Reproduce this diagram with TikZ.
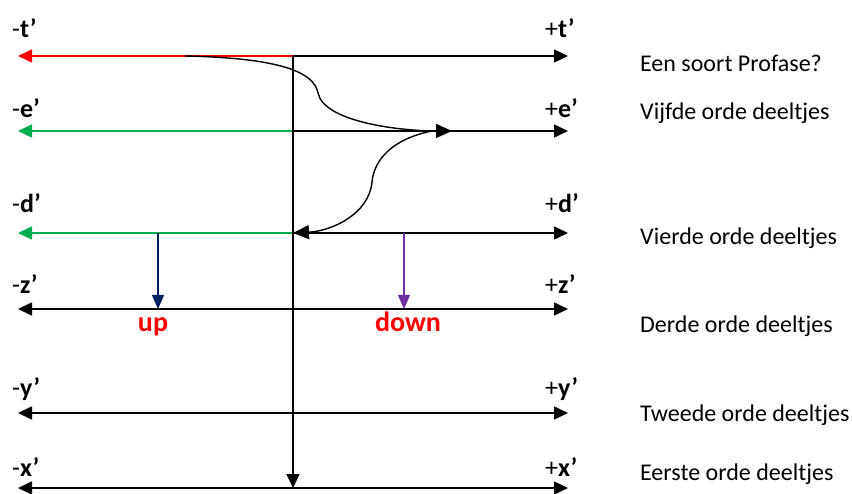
\documentclass[tikz,border=0pt]{standalone}
\usepackage{fontspec}
\setmainfont{Carlito}
\usetikzlibrary{arrows.meta,positioning}
\definecolor{tred}{RGB}{255,0,0}
\definecolor{egreen}{RGB}{0,176,80}
\definecolor{upblue}{RGB}{0,32,96}
\definecolor{downpurple}{RGB}{112,48,160}
\tikzset{
  axisline/.style={line width=1.6pt, -{Triangle[length=14pt,width=13pt]}},
  biline/.style={line width=1.6pt, {Triangle[length=14pt,width=13pt]}-{Triangle[length=14pt,width=13pt]}},
  flowline/.style={line width=1.4pt, -{Triangle[length=16pt,width=14pt]}},
  quarkarrow/.style={line width=1.4pt, -{Triangle[length=14pt,width=12pt]}},
  sidelabel/.style={font=\fontsize{26}{30}\selectfont\bfseries, anchor=base west, inner sep=0pt},
  ordlabel/.style={font=\fontsize{24}{28}\selectfont, anchor=base west, inner sep=0pt},
  quarklabel/.style={font=\fontsize{28}{32}\selectfont\bfseries, text=tred, anchor=base, inner sep=0pt}
}
\begin{document}
\begin{tikzpicture}[x=1pt,y=-1pt]
\useasboundingbox (0,0) rectangle (852,494);

% end points of the levels
\coordinate (tL) at (18,56);  \coordinate (tO) at (293,56);  \coordinate (tR) at (568,56);
\coordinate (eL) at (18,131); \coordinate (eO) at (293,131); \coordinate (eR) at (568,131);
\coordinate (dL) at (18,233); \coordinate (dO) at (293,233); \coordinate (dR) at (568,233);
\coordinate (zL) at (18,309); \coordinate (zR) at (568,309);
\coordinate (yL) at (18,413); \coordinate (yR) at (568,413);
\coordinate (xL) at (18,488); \coordinate (xO) at (293,488); \coordinate (xR) at (568,488);
\coordinate (tK) at (185,56);  \coordinate (eK) at (452,131); \coordinate (eS) at (432,131);
\coordinate (dU) at (158,233); \coordinate (zU) at (158,309);
\coordinate (dD) at (404,233); \coordinate (zD) at (404,309);

% labels
\node[sidelabel] (tminus) at (12,38) {\mdseries-\bfseries t’};
\node[sidelabel] (tplus) at (545,38) {\mdseries+\bfseries t’};
\node[sidelabel] (eminus) at (12,118) {\mdseries-\bfseries e’};
\node[sidelabel] (eplus) at (545,118) {\mdseries+\bfseries e’};
\node[sidelabel] (dminus) at (12,213) {\mdseries-\bfseries d’};
\node[sidelabel] (dplus) at (545,213) {\mdseries+\bfseries d’};
\node[sidelabel] (zminus) at (12,294) {\mdseries-\bfseries z’};
\node[sidelabel] (zplus) at (545,294) {\mdseries+\bfseries z’};
\node[sidelabel] (yminus) at (12,397) {\mdseries-\bfseries y’};
\node[sidelabel] (yplus) at (545,397) {\mdseries+\bfseries y’};
\node[sidelabel] (xminus) at (12,476) {\mdseries-\bfseries x’};
\node[sidelabel] (xplus) at (545,476) {\mdseries+\bfseries x’};

\node[ordlabel] (profase) at (640,72) {Een soort Profase?};
\node[ordlabel] (vijfde) at (640,120) {Vijfde orde deeltjes};
\node[ordlabel] (vierde) at (640,245) {Vierde orde deeltjes};
\node[ordlabel] (derde) at (640,333) {Derde orde deeltjes};
\node[ordlabel] (tweede) at (640,421) {Tweede orde deeltjes};
\node[ordlabel] (eerste) at (640,480) {Eerste orde deeltjes};

\node[quarklabel] (up) at (153,332) {up};
\node[quarklabel] (down) at (408,332) {down};

% levels
\draw[axisline, tred] (tO) -- (tL);
\draw[axisline] (tO) -- (tR);
\draw[axisline, egreen] (eO) -- (eL);
\draw[axisline] (eO) -- (eR);
\draw[axisline, egreen] (dO) -- (dL);
\draw[axisline] (dO) -- (dR);
\draw[biline] (zL) -- (zR);
\draw[biline] (yL) -- (yR);
\draw[biline] (xL) -- (xR);
\draw[axisline] (tO) -- (xO);

% transitions
\draw[flowline] (tK) .. controls (280,58) and (314,72) .. (318,93)
  .. controls (324,122) and (400,131) .. (eK);
\draw[flowline] (eS) .. controls (392,139) and (374,160) .. (372,182)
  .. controls (369,214) and (332,231) .. (dO);
\draw[quarkarrow, upblue] (dU) -- (zU);
\draw[quarkarrow, downpurple] (dD) -- (zD);
\end{tikzpicture}
\end{document}
